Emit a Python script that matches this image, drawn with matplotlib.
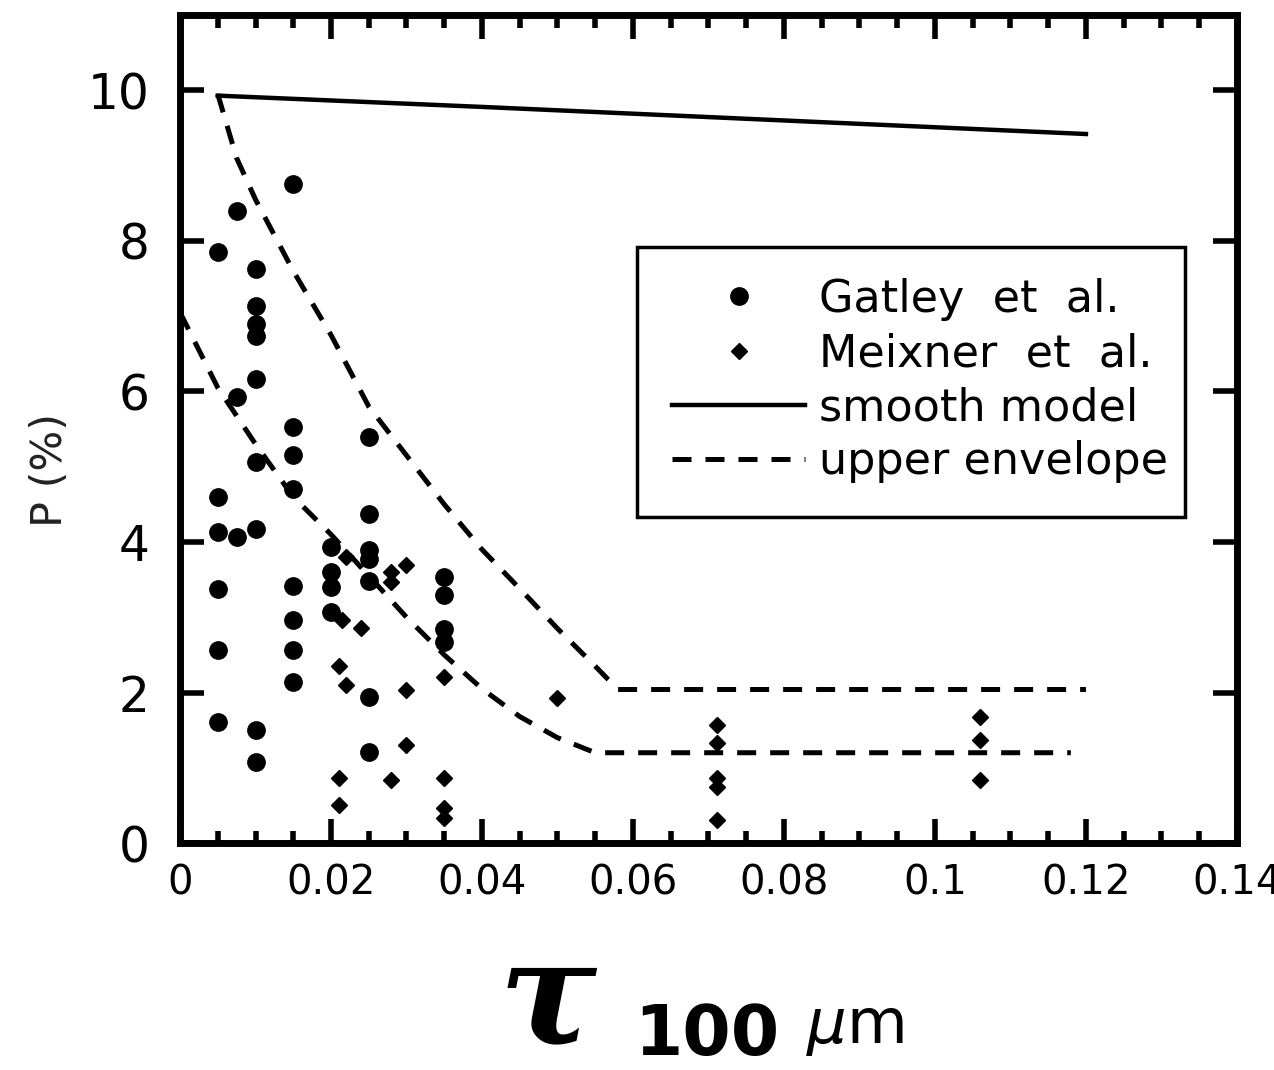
import matplotlib
matplotlib.use("Agg")
import matplotlib.pyplot as plt
from matplotlib.patches import Rectangle
from matplotlib.ticker import FixedLocator, FuncFormatter, MultipleLocator

# polarization vs 100 micron optical depth
gatley_x = [0.005, 0.005, 0.005, 0.005, 0.005, 0.005,
            0.0075, 0.0075, 0.0075,
            0.01, 0.01, 0.01, 0.01, 0.01, 0.01, 0.01, 0.01, 0.01,
            0.015, 0.015, 0.015, 0.015, 0.015, 0.015, 0.015, 0.015,
            0.02, 0.02, 0.02, 0.02,
            0.025, 0.025, 0.025, 0.025, 0.025, 0.025, 0.025,
            0.035, 0.035, 0.035, 0.035]
gatley_y = [7.85, 4.6, 4.13, 3.37, 2.57, 1.61,
            8.4, 5.93, 4.06,
            7.63, 7.14, 6.9, 6.74, 6.16, 5.06, 4.17, 1.5, 1.08,
            8.76, 5.53, 5.15, 4.7, 3.41, 2.97, 2.57, 2.14,
            3.93, 3.6, 3.4, 3.07,
            5.39, 4.37, 3.9, 3.77, 3.48, 1.94, 1.21,
            3.54, 3.3, 2.84, 2.67]

meixner_x = [0.022, 0.0215, 0.021, 0.022, 0.024, 0.021, 0.021,
             0.028, 0.028, 0.030, 0.030, 0.030, 0.028,
             0.035, 0.035, 0.035, 0.035,
             0.050,
             0.0711, 0.0711, 0.0711, 0.0711, 0.0711,
             0.106, 0.106, 0.106]
meixner_y = [3.8, 2.97, 2.35, 2.1, 2.86, 0.87, 0.5,
             3.6, 3.47, 3.7, 2.04, 1.3, 0.84,
             2.21, 0.87, 0.47, 0.33,
             1.93,
             1.57, 1.33, 0.87, 0.75, 0.31,
             1.68, 1.37, 0.84]

model_x = [0.005, 0.04, 0.08, 0.12]
model_y = [9.93, 9.78, 9.6, 9.42]

env_hi_x = [0.005, 0.0075, 0.01, 0.015, 0.02, 0.025, 0.03, 0.035, 0.04,
            0.045, 0.05, 0.055, 0.058, 0.12]
env_hi_y = [9.95, 9.1, 8.55, 7.6, 6.75, 5.8, 5.15, 4.5, 3.9,
            3.38, 2.85, 2.35, 2.04, 2.04]

env_lo_x = [0.0, 0.0025, 0.005, 0.01, 0.015, 0.02, 0.025, 0.03, 0.035,
            0.04, 0.045, 0.05, 0.055, 0.118]
env_lo_y = [7.05, 6.55, 6.05, 5.3, 4.6, 4.1, 3.55, 3.0, 2.5,
            2.05, 1.68, 1.4, 1.2, 1.2]

x_ticks = [0, 0.02, 0.04, 0.06, 0.08, 0.1, 0.12, 0.14]
x_tick_labels = ["0", "0.02", "0.04", "0.06", "0.08", "0.1", "0.12", "0.14"]
y_ticks = [0, 2, 4, 6, 8, 10]

# custom mathtext fonts: bold-italic serif tau, oblique sans mu
plt.rcParams.update({
    "mathtext.fontset": "custom",
    "mathtext.rm": "DejaVu Sans",
    "mathtext.it": "DejaVu Sans:italic",
    "mathtext.bf": "DejaVu Serif:italic:bold",
})

fig = plt.figure(figsize=(12.74, 10.70), dpi=100)
ax = fig.add_axes([0.1413, 0.2121, 0.8296, 0.7738])

ax.plot(gatley_x, gatley_y, linestyle="none", marker="o", markersize=12.5,
        color="black", label="Gatley  et  al.")
ax.plot(meixner_x, meixner_y, linestyle="none", marker="D", markersize=8.5,
        color="black", label="Meixner  et  al.")
ax.plot(model_x, model_y, color="black", linewidth=3.2, label="smooth model")
ax.plot(env_hi_x, env_hi_y, color="black", linewidth=3.6, dashes=(3.8, 2.8),
        dash_capstyle="butt", label="upper envelope")
ax.plot(env_lo_x, env_lo_y, color="black", linewidth=3.6, dashes=(3.8, 2.8),
        dash_capstyle="butt")

ax.set_xlim(0, 0.14)
ax.set_ylim(0, 11)

ax.xaxis.set_major_locator(FixedLocator(x_ticks))
ax.xaxis.set_major_formatter(FuncFormatter(
    lambda v, pos: x_tick_labels[pos] if pos is not None and pos < len(x_tick_labels) else ""))
ax.xaxis.set_minor_locator(MultipleLocator(0.005))
ax.yaxis.set_major_locator(FixedLocator(y_ticks))

for s in ax.spines.values():
    s.set_linewidth(5)

ax.tick_params(which="both", direction="in", top=True, right=True, width=4)
ax.tick_params(which="major", length=17)
ax.tick_params(which="minor", length=9)
ax.tick_params(axis="y", which="major", labelsize=35, pad=22)
ax.tick_params(axis="x", which="major", labelsize=29, pad=15)

ax.set_ylabel("P (%)", fontsize=31, color="#222222")
ax.yaxis.set_label_coords(-0.103, 0.45)

# legend entries without frame; the box is drawn separately so the
# tight right margin of the original can be kept
ax.legend(loc="upper right", bbox_to_anchor=(0.964, 0.720),
          borderaxespad=0, fontsize=32, frameon=False,
          labelspacing=0.25, handlelength=3.0,
          handletextpad=0.3, borderpad=0.7, numpoints=1)
ax.add_patch(Rectangle((0.4324, 0.3937), 0.5184, 0.3261, transform=ax.transAxes,
                       fill=False, edgecolor="black", linewidth=2.5, zorder=5))

# x axis label drawn as separate pieces, like the reference
fig.text(548 / 1274, 1 - 1043 / 1070, r"$\mathbf{\tau}$", fontsize=105,
         ha="center", va="baseline")
fig.text(634 / 1274, 1 - 1055 / 1070, "100", fontsize=50, weight="bold",
         ha="left", va="baseline")
fig.text(806 / 1274, 1 - 1043 / 1070, r"$\mu$m", fontsize=45,
         ha="left", va="baseline")

fig.savefig("out.png", dpi=100)
